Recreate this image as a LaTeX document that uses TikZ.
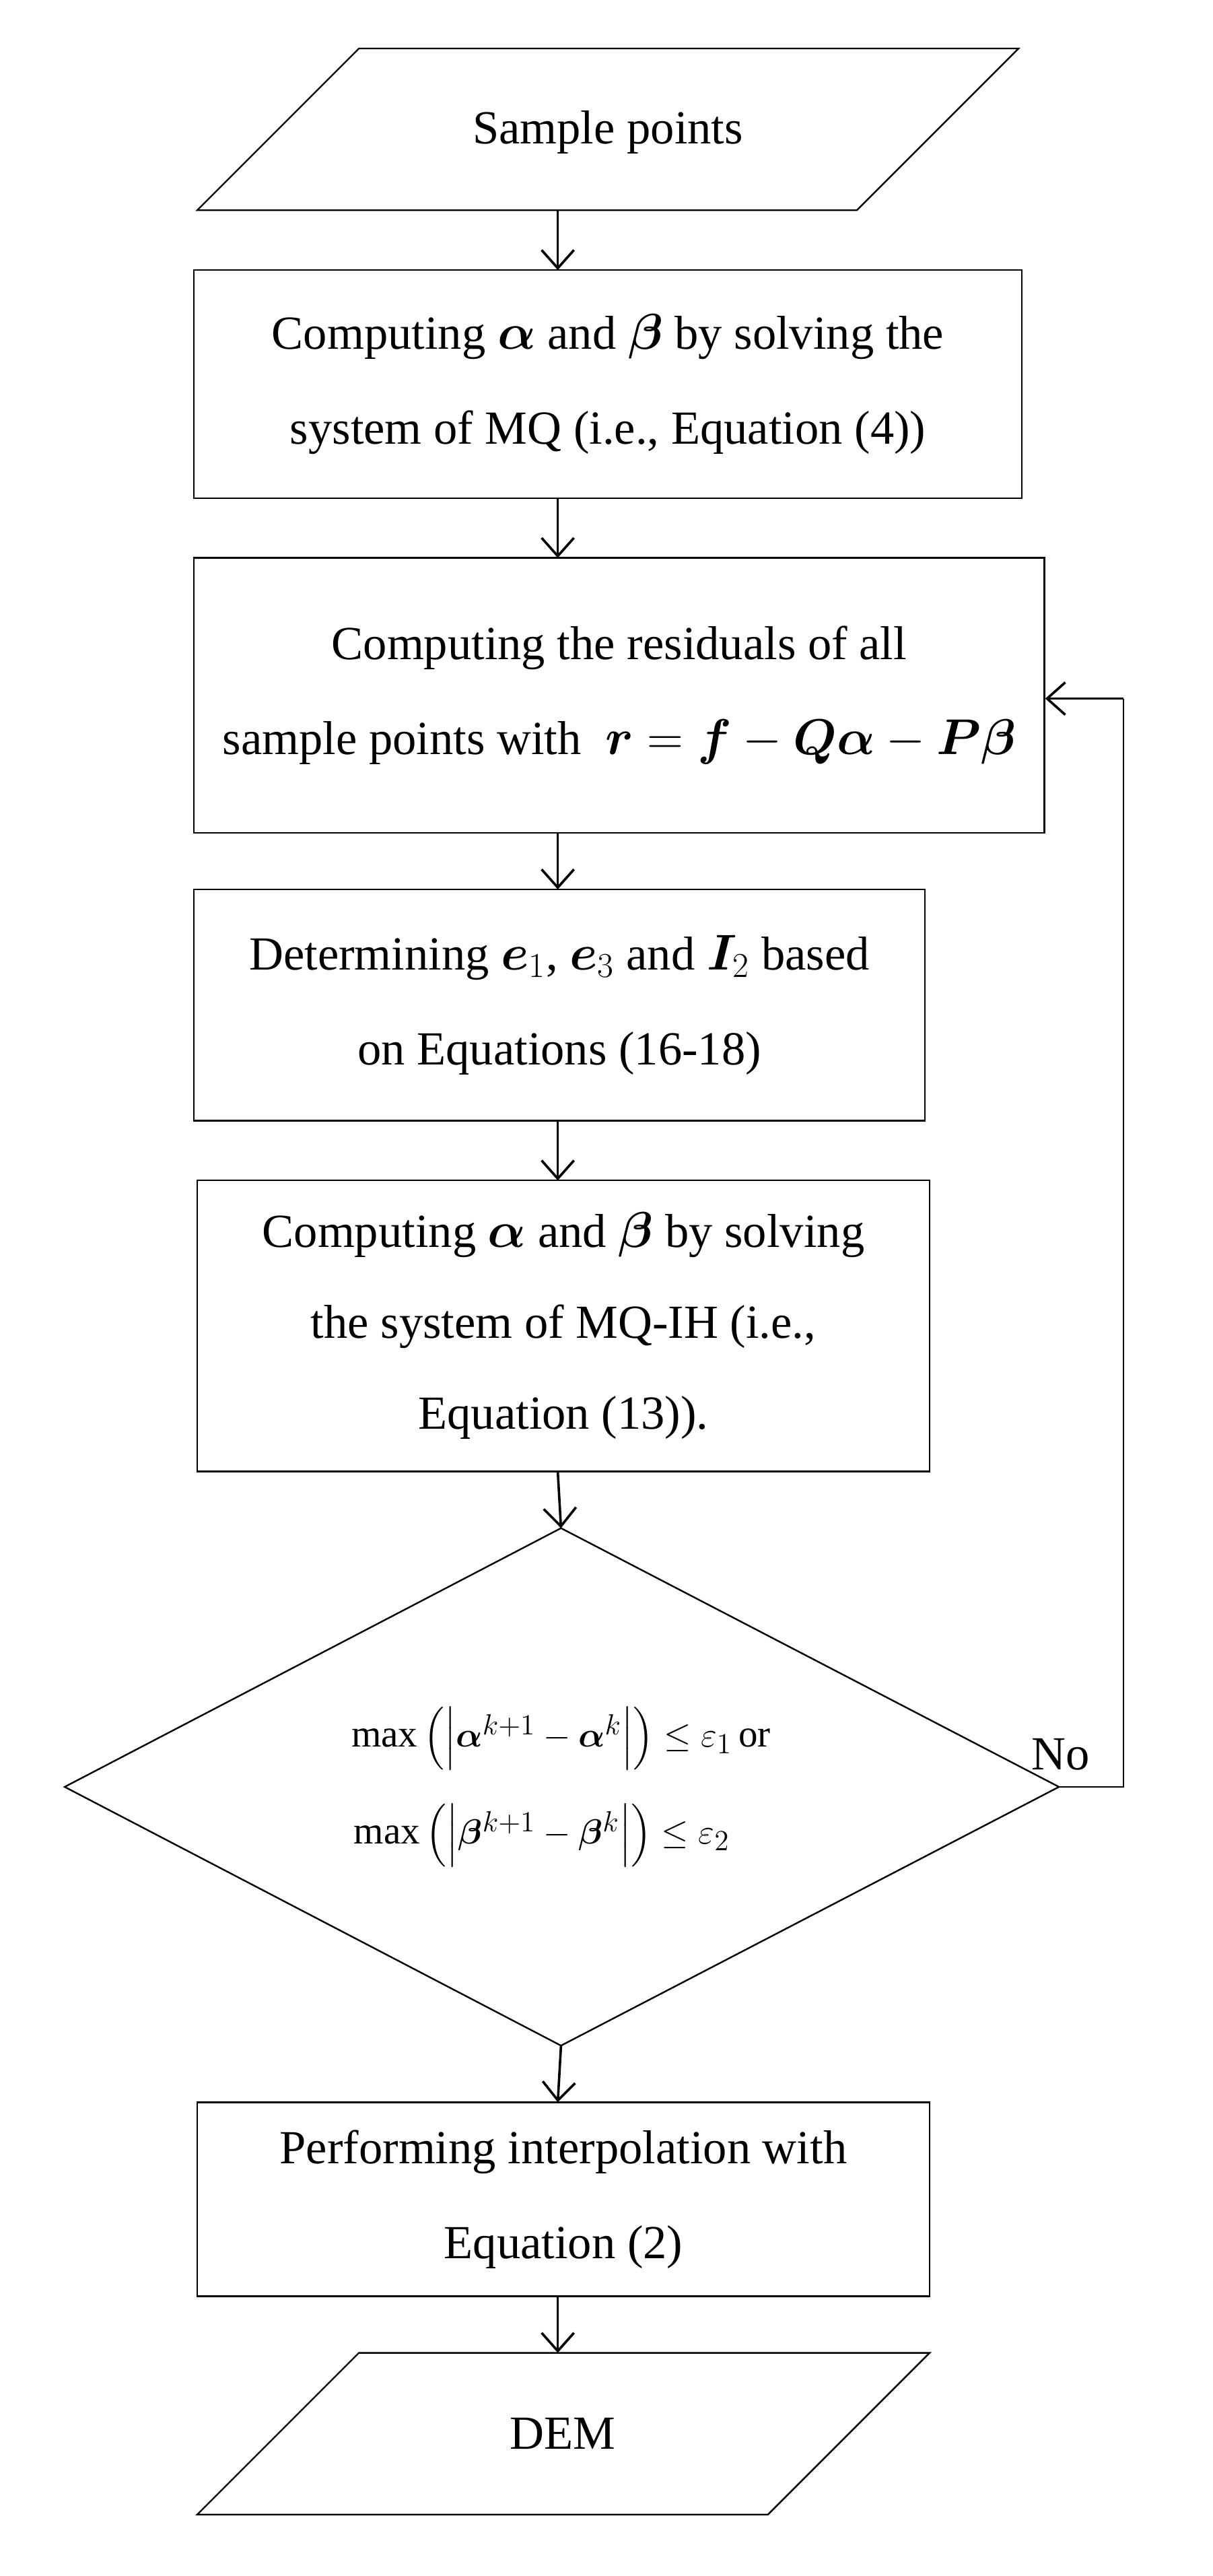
\documentclass[tikz,border=0pt]{standalone}
\usepackage{amsmath}
\usepackage{bm}
\usepackage{fontspec}
\setmainfont{Liberation Serif}
\usetikzlibrary{arrows.meta,shapes.geometric}
\begin{document}
\begin{tikzpicture}[x=0.8pt,y=-0.8pt,
  arr/.style={line width=1.2pt,-{Straight Barb[length=9pt,width=16pt]}},
  txt/.style={align=center,font=\fontsize{23.5}{47}\selectfont}]
\useasboundingbox (0,0) rectangle (750,1593);
\draw[line width=0.8pt] (222,30) -- (630,30) -- (530,130) -- (122,130) -- cycle;
\node[txt] (sp) at (376,82) {Sample points};
\coordinate (spb) at (345,130);
\node[draw,line width=0.8pt,minimum width=512*0.8pt,minimum height=141*0.8pt,txt] (b1) at (376,237.5)
  {Computing $\bm{\alpha}$ and $\bm{\beta}$ by solving the\\ system of MQ (i.e., Equation (4))};
\node[draw,line width=0.8pt,minimum width=526*0.8pt,minimum height=170*0.8pt,txt] (b2) at (383,430)
  {Computing the residuals of all\\ sample points with \ $\bm{r}=\bm{f}-\bm{Q\alpha}-\bm{P\beta}$};
\node[draw,line width=0.8pt,minimum width=452*0.8pt,minimum height=143*0.8pt,txt] (b3) at (346,621.5)
  {Determining $\bm{e}_1$, $\bm{e}_3$ and $\bm{I}_2$ based\\ on Equations (16-18)};
\node[draw,line width=0.8pt,minimum width=453*0.8pt,minimum height=180*0.8pt,txt,font=\fontsize{23.5}{45}\selectfont] (b4) at (348.5,820)
  {Computing $\bm{\alpha}$ and $\bm{\beta}$ by solving\\ the system of MQ-IH (i.e.,\\ Equation (13)).};
\draw[line width=0.8pt] (347,945) -- (655,1105) -- (347,1265) -- (40,1105) -- cycle;
\coordinate (dt) at (347,945); \coordinate (db) at (347,1265); \coordinate (dr) at (655,1105);
\node[align=center,font=\fontsize{19}{48}\selectfont] (dc) at (347,1105)
  {$\max\left(\left|\bm{\alpha}^{k+1}-\bm{\alpha}^{k}\right|\right)\le\varepsilon_1$\,or\\
   $\max\left(\left|\bm{\beta}^{k+1}-\bm{\beta}^{k}\right|\right)\le\varepsilon_2$\phantom{\,or}};
\node[txt] (no) at (656,1085) {No};
\node[draw,line width=0.8pt,minimum width=453*0.8pt,minimum height=120*0.8pt,txt] (b5) at (348.5,1360)
  {Performing interpolation with\\ Equation (2)};
\draw[line width=0.8pt] (222,1455) -- (575,1455) -- (475,1555) -- (122,1555) -- cycle;
\node[txt] (dem) at (348,1505) {DEM};
\coordinate (demt) at (345,1455);
\draw[arr] (spb) -- (345,167);
\draw[arr] (345,308) -- (345,345);
\draw[arr] (345,515) -- (345,550);
\draw[arr] (345,693) -- (345,730);
\draw[arr] (345,910) -- (dt);
\draw[arr] (db) -- (345,1300);
\draw[arr] (345,1420) -- (demt);
\coordinate (c1) at (695,1105); \coordinate (c2) at (695,432);
\draw[line width=0.8pt] (dr) -- (c1) -- (c2);
\draw[arr] (c2) -- (b2.east |- c2);
\end{tikzpicture}
\end{document}
